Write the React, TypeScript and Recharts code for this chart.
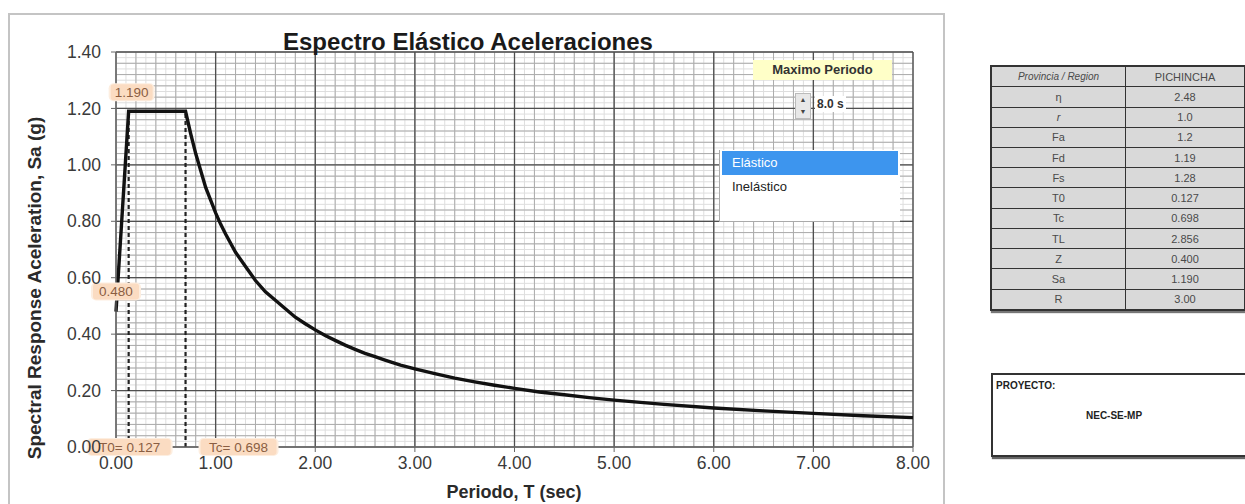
import {
  LineChart,
  Line,
  XAxis,
  YAxis,
  CartesianGrid,
  ReferenceLine,
  ReferenceDot,
} from 'recharts';

// spectrum (period in s, Sa in g)
const periods = [
  0, 0.127, 0.698, 0.75, 0.8, 0.85, 0.9, 0.95, 1.0, 1.05, 1.1, 1.2, 1.3, 1.4, 1.5, 1.6, 1.7, 1.8, 1.9, 2.0,
  2.1, 2.2, 2.3, 2.4, 2.5, 2.6, 2.7, 2.856, 3.0, 3.2, 3.4, 3.6, 3.8, 4.0, 4.25, 4.5, 4.75, 5.0, 5.5, 6.0,
  6.5, 7.0, 7.5, 8.0,
];
const accel = [
  0.48, 1.19, 1.19, 1.11, 1.04, 0.98, 0.92, 0.875, 0.83, 0.79, 0.755, 0.69, 0.64, 0.59, 0.55, 0.52, 0.49,
  0.46, 0.437, 0.415, 0.395, 0.378, 0.361, 0.346, 0.332, 0.32, 0.308, 0.29, 0.277, 0.26, 0.244, 0.231,
  0.219, 0.208, 0.195, 0.185, 0.175, 0.166, 0.151, 0.138, 0.128, 0.119, 0.111, 0.104,
];

const xTicks = [0, 1, 2, 3, 4, 5, 6, 7, 8];
const yTicks = [0, 0.2, 0.4, 0.6, 0.8, 1.0, 1.2, 1.4];

const T0 = 0.127;
const TC = 0.698;
const SA_MAX = 1.19;
const SA_START = 0.48;

const paramNames = ['η', 'r', 'Fa', 'Fd', 'Fs', 'T0', 'Tc', 'TL', 'Z', 'Sa', 'R'];
const paramValues = ['2.48', '1.0', '1.2', '1.19', '1.28', '0.127', '0.698', '2.856', '0.400', '1.190', '3.00'];

const chartData = periods.map((t, i) => ({ t, sa: accel[i] }));

const range = (a: number, b: number, step: number) => {
  const out: number[] = [];
  for (let i = 0; a + i * step <= b + 1e-9; i++) out.push(+(a + i * step).toFixed(4));
  return out;
};
const fineX = range(0, 8, 0.1);
const minorX = range(0, 8, 0.2);
const fineY = range(0, 1.4, 0.02);
const minorY = range(0, 1.4, 0.04);

const FONT = '"Liberation Sans", Arial, sans-serif';

function TagLabel(props: any) {
  const { viewBox, text, offX = 0, offY = 0, w = 44 } = props;
  if (!viewBox) return null;
  const cx = viewBox.x + viewBox.width / 2 + offX;
  const cy = viewBox.y + viewBox.height / 2 + offY;
  return (
    <g>
      <rect x={cx - w / 2 - 2} y={cy - 9} width={w + 4} height={18} rx={5} fill="#fdeee0" />
      <rect x={cx - w / 2} y={cy - 8} width={w} height={16} rx={3} fill="#fbdcc2" />
      <text
        x={cx}
        y={cy}
        textAnchor="middle"
        dominantBaseline="central"
        fontSize={13.5}
        fontFamily={FONT}
        fill="#8a5e42"
      >
        {text}
      </text>
    </g>
  );
}

export default function App() {
  return (
    <div
      style={{
        position: 'absolute',
        left: 0,
        top: 0,
        width: 1245,
        height: 504,
        background: '#fff',
        fontFamily: FONT,
        overflow: 'hidden',
      }}
    >
      {/* chart frame */}
      <div
        style={{
          position: 'absolute',
          left: 8,
          top: 13,
          width: 933,
          height: 500,
          border: '2px solid #c4c4c4',
        }}
      />

      <div style={{ position: 'absolute', left: 0, top: 0 }}>
        <LineChart
          width={945}
          height={504}
          data={chartData}
          margin={{ top: 52, right: 32, left: 56, bottom: 27 }}
        >
          <CartesianGrid stroke="#dedede" strokeWidth={1} verticalValues={fineX} horizontalValues={fineY} />
          <CartesianGrid stroke="#acacac" strokeWidth={1} verticalValues={minorX} horizontalValues={minorY} />
          <CartesianGrid stroke="#505050" strokeWidth={1.3} verticalValues={xTicks} horizontalValues={yTicks} />
          <XAxis
            dataKey="t"
            type="number"
            domain={[0, 8]}
            ticks={xTicks}
            interval={0}
            tickFormatter={(v: number) => v.toFixed(2)}
            tick={{ fontSize: 17.5, fill: '#3a3a3a', fontFamily: FONT }}
            tickSize={5}
            tickMargin={5}
            tickLine={{ stroke: '#666' }}
            axisLine={{ stroke: '#777' }}
            height={30}
          />
          <YAxis
            type="number"
            domain={[0, 1.4]}
            ticks={yTicks}
            interval={0}
            tickFormatter={(v: number) => v.toFixed(2)}
            tick={{ fontSize: 17.5, fill: '#3a3a3a', fontFamily: FONT }}
            tickSize={5}
            tickMargin={10}
            tickLine={{ stroke: '#666' }}
            axisLine={{ stroke: '#777' }}
            width={60}
          />
          <ReferenceLine
            segment={[{ x: T0, y: 0 }, { x: T0, y: SA_MAX }]}
            stroke="#222"
            strokeWidth={2.2}
            strokeDasharray="4 3"
          />
          <ReferenceLine
            segment={[{ x: TC, y: 0 }, { x: TC, y: SA_MAX }]}
            stroke="#222"
            strokeWidth={2.2}
            strokeDasharray="4 3"
          />
          <Line
            type="linear"
            dataKey="sa"
            stroke="#111"
            strokeWidth={3.4}
            dot={false}
            isAnimationActive={false}
          />
          <ReferenceDot
            x={T0}
            y={SA_MAX}
            r={1}
            fill="none"
            stroke="none"
            label={<TagLabel text="1.190" offX={3} offY={-19} w={42} />}
          />
          <ReferenceDot
            x={0}
            y={SA_START}
            r={1}
            fill="none"
            stroke="none"
            label={<TagLabel text="0.480" offX={0} offY={-20} w={46} />}
          />
          <ReferenceDot
            x={T0}
            y={0}
            r={1}
            fill="none"
            stroke="none"
            label={<TagLabel text="T0= 0.127" offX={1} offY={0} w={82} />}
          />
          <ReferenceDot
            x={TC}
            y={0}
            r={1}
            fill="none"
            stroke="none"
            label={<TagLabel text="Tc= 0.698" offX={53} offY={0} w={76} />}
          />
        </LineChart>
      </div>

      {/* title */}
      <div
        style={{
          position: 'absolute',
          left: 268,
          width: 400,
          top: 29,
          textAlign: 'center',
          fontSize: 24,
          fontWeight: 'bold',
          color: '#1a1a1a',
          lineHeight: '26px',
        }}
      >
        Espectro Elástico Aceleraciones
      </div>

      {/* axis titles */}
      <div
        style={{
          position: 'absolute',
          left: 314,
          width: 400,
          top: 482,
          textAlign: 'center',
          fontSize: 18,
          fontWeight: 'bold',
          color: '#2a2a2a',
          lineHeight: '20px',
        }}
      >
        Periodo, T (sec)
      </div>
      <div
        style={{
          position: 'absolute',
          left: 35 - 200,
          width: 400,
          top: 288 - 10,
          textAlign: 'center',
          fontSize: 19,
          fontWeight: 'bold',
          color: '#2a2a2a',
          lineHeight: '20px',
          transform: 'rotate(-90deg)',
        }}
      >
        Spectral Response Aceleration, Sa (g)
      </div>

      {/* Maximo Periodo control */}
      <div
        style={{
          position: 'absolute',
          left: 753,
          top: 60,
          width: 139,
          height: 20,
          background: '#ffffc8',
          fontSize: 13,
          fontWeight: 'bold',
          color: '#333',
          textAlign: 'center',
          lineHeight: '20px',
        }}
      >
        Maximo Periodo
      </div>
      <div
        style={{
          position: 'absolute',
          left: 795,
          top: 93,
          width: 14,
          height: 24,
          background: '#e8e8e8',
          border: '1px solid #bbb',
          fontSize: 7,
          lineHeight: '11px',
          textAlign: 'center',
          color: '#444',
        }}
      >
        <div style={{ height: 12 }}>▲</div>
        <div>▼</div>
      </div>
      <div
        style={{
          position: 'absolute',
          left: 815,
          top: 96,
          height: 16,
          background: '#fff',
          padding: '0 2px',
          fontSize: 12,
          fontWeight: 'bold',
          color: '#333',
          lineHeight: '16px',
        }}
      >
        8.0 s
      </div>

      {/* series list box */}
      <div
        style={{
          position: 'absolute',
          left: 719,
          top: 150,
          width: 180,
          height: 71,
          background: '#fff',
          borderLeft: '1px solid #aaa',
          borderBottom: '1px solid #aaa',
        }}
      >
        <div
          style={{
            margin: '1px 2px 0 2px',
            height: 24,
            background: '#3d95ee',
            color: '#fff',
            fontSize: 13,
            lineHeight: '24px',
            paddingLeft: 10,
          }}
        >
          Elástico
        </div>
        <div style={{ fontSize: 13, color: '#222', lineHeight: '24px', paddingLeft: 12 }}>
          Inelástico
        </div>
      </div>

      {/* parameter table */}
      <table
        style={{
          position: 'absolute',
          left: 990,
          top: 65,
          width: 256,
          height: 246,
          borderCollapse: 'collapse',
          background: '#d9d9d9',
          border: '2px solid #333',
          fontSize: 11,
          color: '#4a4a4a',
          textAlign: 'center',
          boxShadow: '1px 2px 1px #777',
        }}
      >
        <tbody>
          <tr>
            <td style={{ border: '1px solid #333', width: 131, fontStyle: 'italic', fontSize: 10 }}>
              Provincia / Region
            </td>
            <td style={{ border: '1px solid #333' }}>PICHINCHA</td>
          </tr>
          {paramNames.map((name, i) => (
            <tr key={name}>
              <td style={{ border: '1px solid #333', fontStyle: name === 'r' ? 'italic' : 'normal' }}>{name}</td>
              <td style={{ border: '1px solid #333' }}>{paramValues[i]}</td>
            </tr>
          ))}
        </tbody>
      </table>

      {/* project box */}
      <div
        style={{
          position: 'absolute',
          left: 991,
          top: 373,
          width: 260,
          height: 80,
          border: '2px solid #333',
          boxShadow: '1px 2px 1px #666',
          background: '#fff',
          fontSize: 10,
          fontWeight: 'bold',
          color: '#222',
        }}
      >
        <div style={{ position: 'absolute', left: 3, top: 5 }}>PROYECTO:</div>
        <div style={{ position: 'absolute', left: 93, top: 35 }}>NEC-SE-MP</div>
      </div>
    </div>
  );
}
